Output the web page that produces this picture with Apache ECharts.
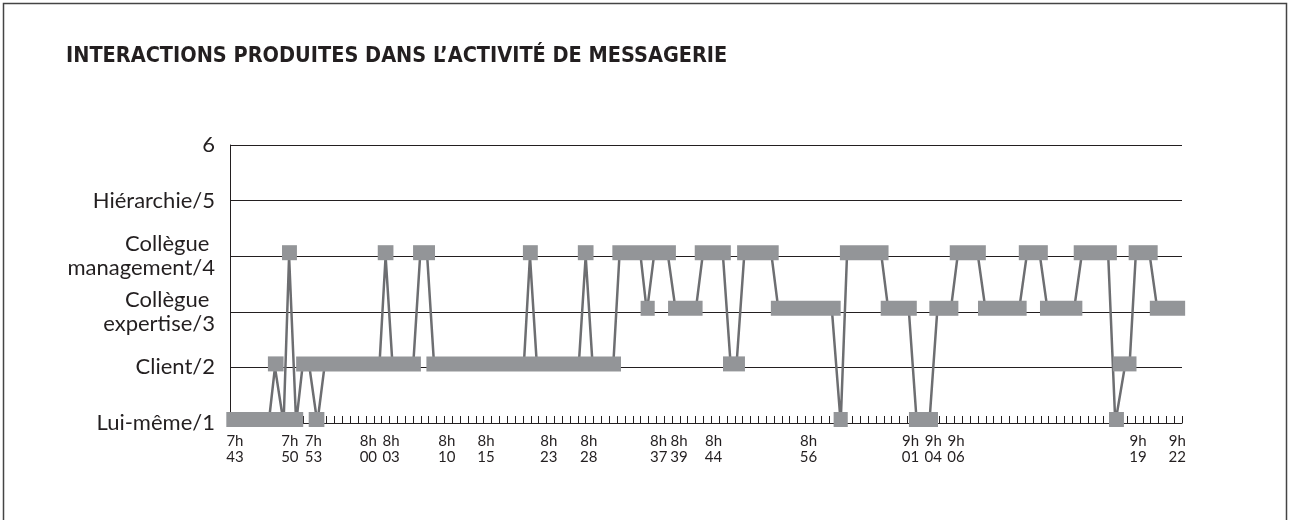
<!DOCTYPE html>
<html>
<head>
<meta charset="utf-8">
<script src="https://cdn.jsdelivr.net/npm/echarts@6/dist/echarts.min.js"></script>
<style>
html, body { margin: 0; padding: 0; background: #fff; }
#chart { width: 1290px; height: 520px; }
</style>
</head>
<body>
<div id="chart"></div>
<script>
// niveaux d'interaction (axe vertical)
var levelLabels = ['', 'Lui-même/1', 'Client/2', 'Collègue \nexpertise/3', 'Collègue \nmanagement/4', 'Hiérarchie/5', '6'];

// repères horaires (position en pas de graduation)
var timeLabels = ['7h\n43', '7h\n50', '7h\n53', '8h\n00', '8h\n03', '8h\n10', '8h\n15', '8h\n23', '8h\n28',
    '8h\n37', '8h\n39', '8h\n44', '8h\n56', '9h\n01', '9h\n04', '9h\n06', '9h\n19', '9h\n22'];
var timePos = [-11.7, -4.7, -1.7, 5.3, 8.2, 15.3, 20.3, 28.3, 33.4,
    42.3, 44.9, 49.3, 61.4, 74.4, 77.3, 80.2, 103.4, 108.4];

// blocs horizontaux : debut, fin, niveau
var blockStart = [-12.8, -7.5, -5.7, -3.9, -2.3, 6.5, 11.0, 12.7, 25.0, 32.0, 36.4, 40.0, 43.5, 46.9, 50.5,
    52.3, 56.6, 64.6, 65.4, 70.6, 74.2, 76.8, 79.4, 83.0, 88.2, 90.9, 95.2, 99.7, 100.2, 102.2, 104.9];
var blockEnd = [-3.0, -5.5, -3.8, 12.0, -0.3, 8.5, 13.8, 37.5, 26.9, 34.0, 44.5, 41.8, 47.9, 51.5, 53.3,
    57.6, 65.5, 66.4, 71.6, 75.2, 77.9, 80.5, 84.0, 89.2, 91.9, 96.3, 100.7, 101.6, 103.2, 105.9, 109.4];
var blockLevel = [1, 2, 4, 2, 1, 4, 4, 2, 4, 4, 4, 3, 3, 4, 2,
    4, 3, 1, 4, 3, 1, 3, 4, 3, 4, 3, 4, 1, 2, 4, 3];

// trajet des interactions successives
var pathX = [-7.4, -6.6, -5.5, -4.8, -3.9, -3.1, -2.2, -1.2, -0.3, 6.7, 7.5, 8.4, 11.0, 11.9, 12.8, 13.7,
    25.1, 25.9, 26.8, 32.1, 33.0, 33.9, 36.5, 37.3, 40.0, 40.8, 41.7, 43.5, 44.5, 47.0, 47.9, 50.5, 51.5,
    52.2, 53.2, 56.7, 57.6, 64.4, 65.5, 66.3, 70.7, 71.6, 74.2, 75.2, 76.8, 77.8, 79.5, 80.4, 83.0, 84.0,
    88.2, 89.2, 90.9, 91.9, 95.2, 96.2, 99.6, 100.5, 101.7, 102.3, 103.1, 104.9, 105.9];
var pathLevel = [1, 2, 1, 4, 1, 2, 2, 1, 2, 2, 4, 2, 2, 4, 4, 2,
    2, 4, 2, 2, 4, 2, 2, 4, 4, 3, 4, 4, 3, 3, 4, 4, 2,
    2, 4, 4, 3, 3, 1, 4, 4, 3, 3, 1, 1, 3, 3, 4, 4, 3,
    3, 4, 4, 3, 3, 4, 4, 1, 2, 2, 4, 4, 3];

var ink = '#231f20';
var blocks = blockStart.map(function (s, i) { return [s, blockEnd[i], blockLevel[i]]; });
var path = pathX.map(function (x, i) { return [x, pathLevel[i]]; });

var tickValues = [];
for (var t = -12; t <= 109; t++) tickValues.push(t);

var myChart = echarts.init(document.getElementById('chart'));
var option = {
    animation: false,
    title: {
        text: 'INTERACTIONS PRODUITES DANS L\u2019ACTIVITÉ DE MESSAGERIE',
        left: 61,
        top: 40,
        textStyle: { fontFamily: 'DejaVu Sans Condensed', fontWeight: 'bold', fontSize: 21.5, color: ink }
    },
    graphic: [{
        type: 'rect',
        shape: { x: 3.5, y: 3.5, width: 1283, height: 560 },
        style: { fill: 'none', stroke: '#444', lineWidth: 1.5 },
        silent: true
    }],
    grid: { left: 230, right: 108, top: 145, bottom: 97 },
    xAxis: {
        type: 'value',
        min: -12.33,
        max: 109,
        axisLine: { lineStyle: { color: ink, width: 1 } },
        axisTick: { show: true, inside: true, length: 7, lineStyle: { color: ink, width: 1 }, customValues: tickValues },
        axisLabel: {
            customValues: timePos,
            fontFamily: 'Lato', fontSize: 15, lineHeight: 16, color: ink, margin: 10,
            formatter: function (v) {
                for (var i = 0; i < timePos.length; i++) {
                    if (Math.abs(timePos[i] - v) < 0.01) return timeLabels[i];
                }
                return '';
            }
        },
        splitLine: { show: false }
    },
    yAxis: {
        type: 'value',
        min: 1,
        max: 6,
        interval: 1,
        axisLine: { show: true, onZero: false, lineStyle: { color: ink, width: 1 } },
        axisTick: { show: false },
        axisLabel: {
            fontFamily: 'Lato', fontSize: 22, lineHeight: 24, color: ink, margin: 15,
            formatter: function (v) { return levelLabels[v] || ''; }
        },
        splitLine: { show: true, lineStyle: { color: ink, width: 1 } }
    },
    series: [{
        type: 'line',
        data: path,
        showSymbol: false,
        z: 2,
        lineStyle: { color: '#6d6e71', width: 2.5 }
    }, {
        type: 'custom',
        clip: false,
        z: 3,
        encode: { x: [0, 1], y: 2 },
        data: blocks,
        renderItem: function (params, api) {
            var a = api.coord([api.value(0), api.value(2)]);
            var b = api.coord([api.value(1), api.value(2)]);
            return {
                type: 'rect',
                shape: { x: a[0], y: a[1] - 11, width: b[0] - a[0], height: 15 },
                style: { fill: '#939598' }
            };
        }
    }]
};
myChart.setOption(option);
</script>
</body>
</html>
